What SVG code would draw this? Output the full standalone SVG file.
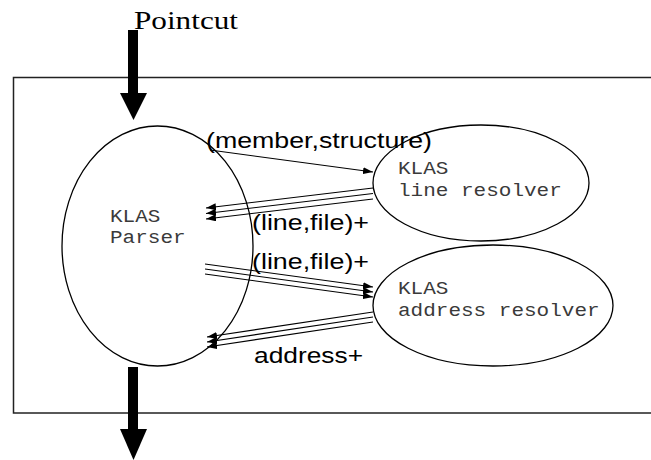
<svg xmlns="http://www.w3.org/2000/svg" width="651" height="460" viewBox="0 0 651 460">
  <style>
    .frame { fill: none; stroke: #222; stroke-width: 1.5; }
    .node { fill: none; stroke: #000; stroke-width: 1.3; }
    .mono { font-family: "Liberation Mono", "Courier New", monospace; font-size: 17.5px; fill: #3a3a3a; }
    .label { font-family: "Liberation Sans", Arial, sans-serif; font-size: 21.5px; fill: #000; }
    .title { font-family: "Liberation Serif", "Times New Roman", serif; font-size: 25px; fill: #000; }
    .link { fill: none; stroke: #000; stroke-width: 1.1; marker-end: url(#head); }
    .bold { fill: #000; stroke: none; }
  </style>
  <defs>
    <marker id="head" markerUnits="userSpaceOnUse" markerWidth="11" markerHeight="8" refX="10" refY="3.5" orient="auto">
      <path d="M0,0 L10,3.5 L0,7 z" fill="#000"/>
    </marker>
  </defs>

  <rect width="651" height="460" fill="#fff"/>

  <!-- aspect frame -->
  <rect class="frame" x="13.5" y="77.5" width="645" height="335.5"/>

  <!-- pointcut entry / exit -->
  <g id="pointcut">
    <text class="title" x="134" y="29" textLength="104" lengthAdjust="spacingAndGlyphs">Pointcut</text>
    <rect class="bold" x="128" y="30" width="10" height="64"/>
    <polygon class="bold" points="120,93 147,93 133.5,120"/>
    <rect class="bold" x="128" y="367" width="10" height="63"/>
    <polygon class="bold" points="120,429 147,429 133.5,460"/>
  </g>

  <g id="parser">
    <ellipse class="node" cx="157.5" cy="246" rx="95.5" ry="120"/>
    <text class="mono" x="110" y="222" textLength="50.4" lengthAdjust="spacingAndGlyphs">KLAS</text>
    <text class="mono" x="110" y="243" textLength="75.6" lengthAdjust="spacingAndGlyphs">Parser</text>
  </g>

  <g id="line-resolver">
    <ellipse class="node" cx="481" cy="183" rx="108" ry="58"/>
    <text class="mono" x="398" y="174" textLength="50.4" lengthAdjust="spacingAndGlyphs">KLAS</text>
    <text class="mono" x="398" y="196" textLength="163.8" lengthAdjust="spacingAndGlyphs">line resolver</text>
  </g>

  <g id="address-resolver">
    <ellipse class="node" cx="493" cy="305.5" rx="120" ry="60.5"/>
    <text class="mono" x="398" y="294" textLength="50.4" lengthAdjust="spacingAndGlyphs">KLAS</text>
    <text class="mono" x="398" y="316" textLength="201.6" lengthAdjust="spacingAndGlyphs">address resolver</text>
  </g>

  <g id="connectors">
    <!-- query to line resolver -->
    <line class="link" x1="210" y1="150" x2="373" y2="172"/>
    <!-- line results back to parser -->
    <line class="link" x1="373" y1="188" x2="206" y2="208"/>
    <line class="link" x1="373" y1="193.5" x2="206" y2="213.5"/>
    <line class="link" x1="373" y1="199" x2="206" y2="219"/>
    <!-- line/file pairs to address resolver -->
    <line class="link" x1="205" y1="264" x2="373" y2="287"/>
    <line class="link" x1="205" y1="269" x2="373" y2="292"/>
    <line class="link" x1="205" y1="274" x2="373" y2="297"/>
    <!-- addresses back to parser -->
    <line class="link" x1="373" y1="312" x2="207" y2="337"/>
    <line class="link" x1="373" y1="317" x2="207" y2="342"/>
    <line class="link" x1="373" y1="322" x2="207" y2="347"/>

    <text class="label" x="206" y="148" textLength="226" lengthAdjust="spacingAndGlyphs">(member,structure)</text>
    <text class="label" x="252" y="230" textLength="117" lengthAdjust="spacingAndGlyphs">(line,file)+</text>
    <text class="label" x="252" y="269" textLength="117" lengthAdjust="spacingAndGlyphs">(line,file)+</text>
    <text class="label" x="254" y="363" textLength="109" lengthAdjust="spacingAndGlyphs">address+</text>
  </g>
</svg>
